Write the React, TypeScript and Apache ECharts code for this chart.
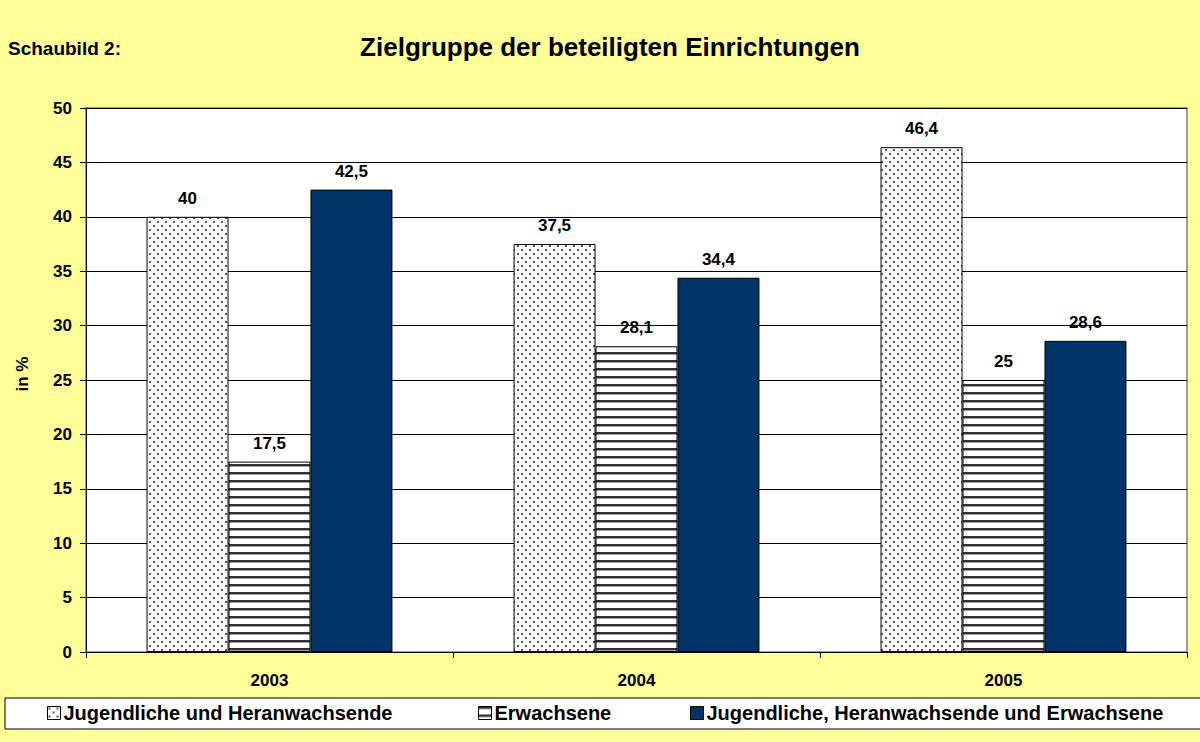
import React, { useEffect, useRef } from "react";
import * as echarts from "echarts";

const categories = ["2003", "2004", "2005"];
const seriesNames = [
  "Jugendliche und Heranwachsende",
  "Erwachsene",
  "Jugendliche, Heranwachsende und Erwachsene",
];
const jugendliche = [40, 37.5, 46.4];
const erwachsene = [17.5, 28.1, 25];
const beide = [42.5, 34.4, 28.6];

const FONT = "'Liberation Sans', Arial, sans-serif";

function makeDots(): string {
  const c = document.createElement("canvas");
  c.width = 8;
  c.height = 8;
  const g = c.getContext("2d")!;
  g.fillStyle = "#ffffff";
  g.fillRect(0, 0, 8, 8);
  g.fillStyle = "#555555";
  g.fillRect(1, 1, 2, 2);
  g.fillRect(5, 5, 2, 2);
  return c.toDataURL();
}

function makeStripes(): string {
  const c = document.createElement("canvas");
  c.width = 8;
  c.height = 8;
  const g = c.getContext("2d")!;
  g.fillStyle = "#ffffff";
  g.fillRect(0, 0, 8, 8);
  g.fillStyle = "#303030";
  g.fillRect(0, 0, 8, 2);
  g.fillStyle = "#a0a0a0";
  g.fillRect(0, 2, 8, 1);
  return c.toDataURL();
}

export default function App() {
  const ref = useRef<HTMLDivElement>(null);

  useEffect(() => {
    document.body.style.margin = "0";
    document.body.style.background = "#FFFF99";
    const chart = echarts.init(ref.current!, undefined, { renderer: "svg" });
    const dots = { image: makeDots(), repeat: "repeat", imageWidth: 8, imageHeight: 8 } as any;
    const stripes = { image: makeStripes(), repeat: "repeat", imageWidth: 8, imageHeight: 8 } as any;
    const colors = [dots, stripes, "#003366"];
    const values = [jugendliche, erwachsene, beide];
    const legendLefts = [47, 478, 690];

    const labelFmt = (p: any) => String(p.value).replace(".", ",");

    chart.setOption({
      animation: false,
      backgroundColor: "#FFFF99",
      textStyle: { fontFamily: FONT },
      grid: {
        left: 86,
        right: 13,
        top: 108,
        bottom: 90,
        show: true,
        backgroundColor: "#ffffff",
        borderColor: "#808080",
        borderWidth: 1.5,
      },
      xAxis: {
        type: "category",
        data: categories,
        axisLine: { lineStyle: { color: "#000", width: 1 } },
        axisTick: { show: true, length: 6, lineStyle: { color: "#000" } },
        axisLabel: {
          color: "#000",
          fontWeight: "bold",
          fontSize: 17,
          fontFamily: FONT,
          margin: 20,
        },
      },
      yAxis: {
        type: "value",
        min: 0,
        max: 50,
        interval: 5,
        axisLine: { show: true, lineStyle: { color: "#000", width: 1 } },
        axisTick: { show: true, length: 6, lineStyle: { color: "#000" } },
        splitLine: { show: true, lineStyle: { color: "#000", width: 1 } },
        axisLabel: {
          color: "#000",
          fontWeight: "bold",
          fontSize: 17,
          fontFamily: FONT,
          margin: 14,
        },
      },
      legend: seriesNames.map((n, i) => ({
        data: [n],
        left: legendLefts[i],
        top: 703,
        padding: 0,
        itemWidth: 13,
        itemHeight: 13,
        icon: "rect",
        z: 10,
        itemStyle: { borderColor: "#000", borderWidth: 1 },
        textStyle: {
          color: "#000",
          fontWeight: "bold",
          fontSize: 20,
          fontFamily: FONT,
          lineHeight: 20,
          padding: [0, 0, 0, -2],
        },
      })),
      graphic: [
        {
          type: "rect",
          z: 0,
          shape: { x: 5, y: 698, width: 1200, height: 31 },
          style: { fill: "#ffffff", stroke: "#000000", lineWidth: 1 },
        },
        {
          type: "text",
          x: 8,
          y: 48,
          style: {
            text: "Schaubild 2:",
            fill: "#000",
            font: `bold 19px ${FONT}`,
            verticalAlign: "middle",
          },
        },
        {
          type: "text",
          x: 610,
          y: 47,
          style: {
            text: "Zielgruppe der beteiligten Einrichtungen",
            fill: "#000",
            font: `bold 26px ${FONT}`,
            align: "center",
            verticalAlign: "middle",
          },
        },
        {
          type: "text",
          x: 22,
          y: 374,
          rotation: Math.PI / 2,
          style: {
            text: "in %",
            fill: "#000",
            font: `bold 17px ${FONT}`,
            align: "center",
            verticalAlign: "middle",
          },
        },
      ],
      series: seriesNames.map((n, i) => ({
        name: n,
        type: "bar",
        data: values[i],
        barGap: "0%",
        barCategoryGap: "33%",
        itemStyle: { color: colors[i], borderColor: "#000", borderWidth: 1 },
        label: {
          show: true,
          position: "top",
          distance: 10,
          color: "#000",
          fontWeight: "bold",
          fontSize: 17,
          fontFamily: FONT,
          formatter: labelFmt,
        },
      })),
    });
    return () => chart.dispose();
  }, []);

  return <div ref={ref} style={{ width: 1200, height: 742 }} />;
}
